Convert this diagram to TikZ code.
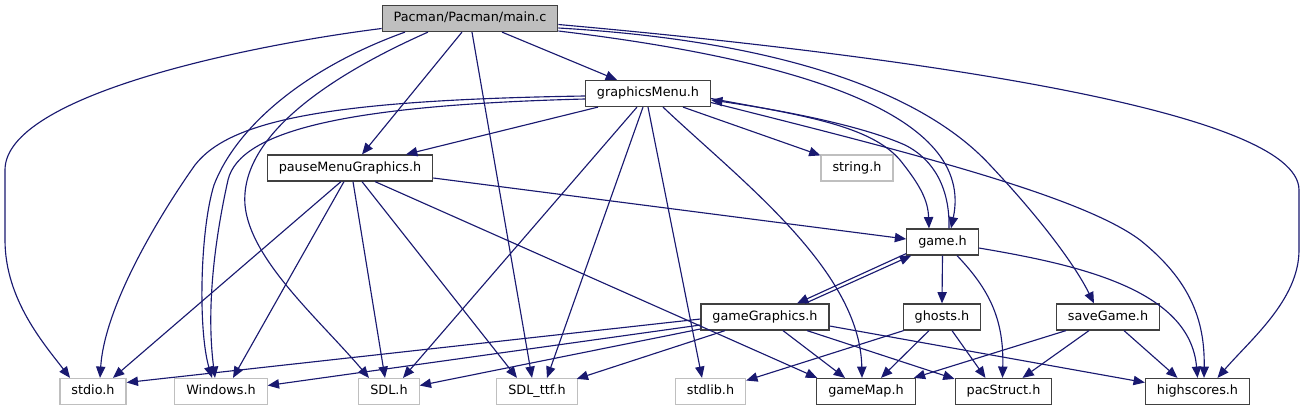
\documentclass[tikz,border=0pt]{standalone}
\usepackage{fontspec}
\setmainfont{DejaVu Sans}
\usetikzlibrary{arrows.meta, calc}
\definecolor{edgeblue}{RGB}{25,25,112}
\definecolor{extgray}{RGB}{191,191,191}
\definecolor{boxline}{RGB}{64,64,64}

\begin{document}
\begin{tikzpicture}[x=0.75pt, y=-0.75pt,
  hfile/.style={draw=boxline, line width=0.9pt, fill=white, inner xsep=8.6pt, inner ysep=0pt,
    minimum height=19.5pt, text height=7.2pt, text depth=2.2pt, font=\fontsize{9.6}{11}\selectfont},
  sysfile/.style={hfile, draw=extgray},
  mainfile/.style={hfile, fill=extgray},
  incl/.style={draw=edgeblue, line width=0.85pt, -{Triangle[length=8.5pt, width=7pt]}}]
  \useasboundingbox (0,0) rectangle (1304,411);

  % Files, top to bottom
  \node[mainfile] (mainc) at (470,18.5) {Pacman/Pacman/main.c};
  \node[hfile] (gmenu) at (648,93.5) {graphicsMenu.h};
  \node[hfile] (pmenu) at (350,168) {pauseMenuGraphics.h};
  \node[sysfile] (strh) at (857,168) {string.h};
  \node[hfile] (gameh) at (942.5,242) {game.h};
  \node[hfile] (ggfx) at (765,317) {gameGraphics.h};
  \node[hfile] (ghosts) at (942,317) {ghosts.h};
  \node[hfile] (saveg) at (1108,317) {saveGame.h};
  \node[sysfile] (stdioh) at (93,391.5) {stdio.h};
  \node[sysfile] (winh) at (221,391.5) {Windows.h};
  \node[sysfile] (sdlh) at (389,391.5) {SDL.h};
  \node[sysfile] (ttfh) at (537,391.5) {SDL\_ttf.h};
  \node[sysfile] (stdlibh) at (710.5,391.5) {stdlib.h};
  \node[hfile] (gmap) at (866,391.5) {gameMap.h};
  \node[hfile] (pacs) at (1003.5,391.5) {pacStruct.h};
  \node[hfile] (hscore) at (1197.5,391.5) {highscores.h};

  % main.c includes
  \draw[incl] ($(mainc.west)+(0,10)$) .. controls (250,45) and (5,95) .. (5,170) -- (5,240) .. controls (5,300) and (45,345) .. ($(stdioh.north)+(-23,0)$);
  \draw[incl] ($(mainc.south)+(-65,0)$) .. controls (300,70) and (235,130) .. (214,185) .. controls (200,230) and (198,330) .. ($(winh.north)+(-9,0)$);
  \draw[incl] ($(mainc.south)+(-42,0)$) .. controls (320,80) and (240,140) .. (245,205) .. controls (250,260) and (320,320) .. ($(sdlh.north)+(-20,0)$);
  \draw[incl] ($(mainc.south)+(-8,0)$) -- ($(pmenu.north)+(12,0)$);
  \draw[incl] ($(mainc.south)+(2,0)$) -- ($(ttfh.north)+(-5,0)$);
  \draw[incl] ($(mainc.south)+(32,0)$) -- ($(gmenu.north)+(-31,0)$);
  \draw[incl] ($(mainc.east)+(0,12.5)$) .. controls (800,60) and (975,115) .. ($(gameh.north)+(8.5,0)$);
  \draw[incl] ($(mainc.east)+(0,9.5)$) .. controls (800,42) and (930,100) .. (990,165) .. controls (1040,218) and (1075,265) .. ($(saveg.north)+(-14,0)$);
  \draw[incl] ($(mainc.east)+(0,6)$) .. controls (900,55) and (1299,110) .. (1299,190) -- (1299,250) .. controls (1299,300) and (1250,340) .. ($(hscore.north)+(20,0)$);

  % graphicsMenu.h includes
  \draw[incl] ($(gmenu.west)+(0,2.5)$) .. controls (330,100) and (230,120) .. (195,165) .. controls (170,200) and (105,300) .. ($(stdioh.north)+(7,0)$);
  \draw[incl] ($(gmenu.west)+(0,5.5)$) .. controls (350,105) and (240,130) .. (228,180) .. controls (218,225) and (205,300) .. ($(winh.north)+(-6,0)$);
  \draw[incl] ($(gmenu.south)+(-50,0)$) -- ($(pmenu.north)+(56,0)$);
  \draw[incl] ($(gmenu.south)+(-11,0)$) -- ($(sdlh.north)+(14,0)$);
  \draw[incl] ($(gmenu.south)+(-5,0)$) -- ($(ttfh.north)+(10,0)$);
  \draw[incl] (gmenu.south) -- ($(stdlibh.north)+(-8.5,0)$);
  \draw[incl] ($(gmenu.south)+(15,0)$) .. controls (740,180) and (860,270) .. ($(gmap.north)+(-4,0)$);
  \draw[incl] ($(gmenu.south)+(35,0)$) -- ($(strh.north west)+(0,1)$);
  \draw[incl] ($(gmenu.east)+(0,5)$) .. controls (800,115) and (870,125) .. (900,160) .. controls (920,185) and (928,200) .. ($(gameh.north)+(-13.5,0)$);
  \draw[incl] ($(gmenu.east)+(0,9)$) .. controls (900,150) and (1080,195) .. (1140,240) .. controls (1190,280) and (1205,320) .. ($(hscore.north)+(6.5,0)$);

  % pauseMenuGraphics.h includes
  \draw[incl] ($(pmenu.south)+(-9,0)$) -- ($(stdioh.north)+(20,0)$);
  \draw[incl] ($(pmenu.south)+(-6,0)$) -- ($(winh.north)+(12,0)$);
  \draw[incl] ($(pmenu.south)+(3,0)$) -- ($(sdlh.north)+(-4,0)$);
  \draw[incl] ($(pmenu.south)+(12,0)$) -- ($(ttfh.north)+(-20,0)$);
  \draw[incl] ($(pmenu.south)+(25,0)$) -- ($(gmap.north west)+(1,0)$);
  \draw[incl] ($(pmenu.east)+(0,10)$) -- ($(gameh.west)+(0,-3)$);

  % game.h includes
  \draw[incl] ($(gameh.north)+(6.5,0)$) .. controls (950,190) and (935,160) .. (905,145) .. controls (860,125) and (780,110) .. ($(gmenu.east)+(0,6.5)$);
  \draw[incl] ($(gameh.south west)+(0,-2)$) -- ($(ggfx.north)+(32,0)$);
  \draw[incl] (gameh.south) -- (ghosts.north);
  \draw[incl] ($(gameh.south)+(14.5,0)$) .. controls (990,290) and (1004,320) .. ($(pacs.north)+(-1,0)$);
  \draw[incl] ($(gameh.east)+(0,6)$) .. controls (1080,265) and (1190,290) .. (hscore.north);

  % gameGraphics.h includes
  \draw[incl] ($(ggfx.north)+(40,0)$) -- ($(gameh.south west)+(5,0)$);
  \draw[incl] ($(ggfx.west)+(0,2)$) -- ($(stdioh.east)+(0,-9)$);
  \draw[incl] ($(ggfx.west)+(0,8)$) -- ($(winh.east)+(0,-6)$);
  \draw[incl] ($(ggfx.west)+(0,12)$) -- ($(sdlh.east)+(0,-6)$);
  \draw[incl] ($(ggfx.south)+(-40,0)$) -- ($(ttfh.north east)+(-1,1)$);
  \draw[incl] ($(ggfx.south)+(18,0)$) -- ($(gmap.north)+(-21,0)$);
  \draw[incl] ($(ggfx.south)+(42,0)$) -- ($(pacs.north west)+(0,1)$);
  \draw[incl] ($(ggfx.east)+(0,9)$) -- ($(hscore.west)+(0,-9)$);

  % ghosts.h includes
  \draw[incl] ($(ghosts.south west)+(1,0)$) -- ($(stdlibh.east)+(0,-11)$);
  \draw[incl] ($(ghosts.south)+(-13,0)$) -- ($(gmap.north)+(15,0)$);
  \draw[incl] ($(ghosts.south)+(10,0)$) -- ($(pacs.north)+(-18,0)$);

  % saveGame.h includes
  \draw[incl] ($(saveg.south)+(-42,0)$) -- ($(gmap.north east)+(-2,0)$);
  \draw[incl] ($(saveg.south)+(-19,0)$) -- ($(pacs.north)+(19,0)$);
  \draw[incl] ($(saveg.south)+(16,0)$) -- ($(hscore.north)+(-20,0)$);
\end{tikzpicture}
\end{document}
